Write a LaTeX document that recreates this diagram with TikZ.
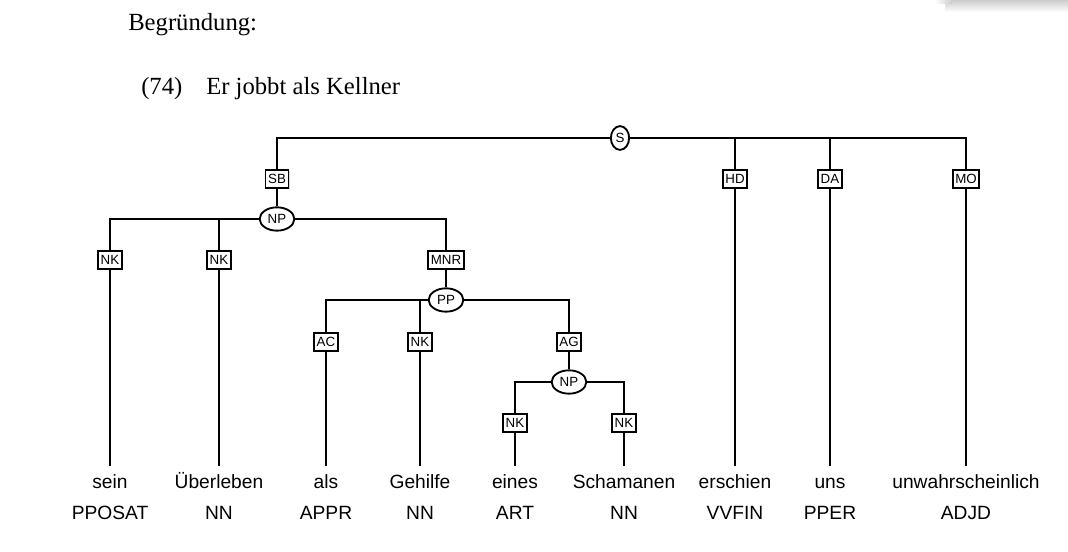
\documentclass[tikz,border=0pt]{standalone}
\usepackage{fontspec}
\setmainfont{Liberation Serif}
\setsansfont{Liberation Sans}
\usetikzlibrary{shapes.geometric,shadows}

\begin{document}
\begin{tikzpicture}[x=0.75pt,y=-0.75pt,
    ramo/.style={line width=1.5pt},
    func/.style={draw, fill=white, line width=1.4pt, inner xsep=2pt, inner ysep=0pt,
        minimum height=13.5pt, font=\sffamily\fontsize{10}{11}\selectfont,
        drop shadow={shadow xshift=0.8pt, shadow yshift=-0.8pt, fill=gray!55}},
    cat/.style={ellipse, draw, fill=white, line width=1.4pt, inner sep=0pt,
        minimum width=26pt, minimum height=17.5pt, font=\sffamily\fontsize{10}{11}\selectfont},
    palavra/.style={anchor=base, text height=11pt, inner ysep=5.5pt,
        font=\sffamily\fontsize{14.4}{16}\selectfont},
    etiqueta/.style={anchor=base, inner sep=0pt, font=\sffamily\fontsize{14.4}{16}\selectfont},
    titulo/.style={anchor=base west, inner sep=0pt, font=\rmfamily\fontsize{18.5}{20}\selectfont}]
    % Fundo e sombra no canto
    \fill[white] (0,0) rectangle (1068,552);
    \shade[top color=gray!40, bottom color=white] (945,0) rectangle (1068,12);
    \shade[left color=white, right color=gray!40] (935,0) rectangle (952,4);

    % Texto do exemplo
    \node[titulo] (beg) at (128,31) {Begründung:};
    \node[titulo] (num) at (141,95) {(74)};
    \node[titulo] (frase) at (206,95) {Er jobbt als Kellner};

    % Categorias
    \node[cat, minimum width=13.7pt, minimum height=17.8pt] (S) at (620,138) {S};
    \node[cat] (NPa) at (277,219) {NP};
    \node[cat] (PP) at (446,300) {PP};
    \node[cat] (NPb) at (569,382) {NP};

    % Funcoes
    \node[func] (SB) at (277,179) {SB};
    \node[func] (HD) at (735,179) {HD};
    \node[func] (DA) at (830,179) {DA};
    \node[func] (MO) at (966,179) {MO};
    \node[func] (NKa) at (110,260) {NK};
    \node[func] (NKb) at (219,260) {NK};
    \node[func] (MNR) at (446,260) {MNR};
    \node[func] (AC) at (326,342) {AC};
    \node[func] (NKc) at (420,342) {NK};
    \node[func] (AG) at (569,342) {AG};
    \node[func] (NKd) at (515,423) {NK};
    \node[func] (NKe) at (624,423) {NK};

    % Palavras e etiquetas
    \node[palavra] (w1) at (110,488) {sein};
    \node[palavra] (w2) at (219,488) {Überleben};
    \node[palavra] (w3) at (326,488) {als};
    \node[palavra] (w4) at (420,488) {Gehilfe};
    \node[palavra] (w5) at (515,488) {eines};
    \node[palavra] (w6) at (624,488) {Schamanen};
    \node[palavra] (w7) at (735,488) {erschien};
    \node[palavra] (w8) at (830,488) {uns};
    \node[palavra] (w9) at (966,488) {unwahrscheinlich};
    \node[etiqueta] (t1) at (110,519) {PPOSAT};
    \node[etiqueta] (t2) at (219,519) {NN};
    \node[etiqueta] (t3) at (326,519) {APPR};
    \node[etiqueta] (t4) at (420,519) {NN};
    \node[etiqueta] (t5) at (515,519) {ART};
    \node[etiqueta] (t6) at (624,519) {NN};
    \node[etiqueta] (t7) at (735,519) {VVFIN};
    \node[etiqueta] (t8) at (830,519) {PPER};
    \node[etiqueta] (t9) at (966,519) {ADJD};

    % Ramos
    \draw[ramo] (S) -| (SB);
    \draw[ramo] (S) -| (HD);
    \draw[ramo] (S) -| (DA);
    \draw[ramo] (S) -| (MO);
    \draw[ramo] (SB) -- (NPa);
    \draw[ramo] (HD) -- (w7.north);
    \draw[ramo] (DA) -- (w8.north);
    \draw[ramo] (MO) -- (w9.north);
    \draw[ramo] (NPa) -| (NKa);
    \draw[ramo] (NPa) -| (NKb);
    \draw[ramo] (NPa) -| (MNR);
    \draw[ramo] (NKa) -- (w1.north);
    \draw[ramo] (NKb) -- (w2.north);
    \draw[ramo] (MNR) -- (PP);
    \draw[ramo] (PP) -| (AC);
    \draw[ramo] (PP) -| (NKc);
    \draw[ramo] (PP) -| (AG);
    \draw[ramo] (AC) -- (w3.north);
    \draw[ramo] (NKc) -- (w4.north);
    \draw[ramo] (AG) -- (NPb);
    \draw[ramo] (NPb) -| (NKd);
    \draw[ramo] (NPb) -| (NKe);
    \draw[ramo] (NKd) -- (w5.north);
    \draw[ramo] (NKe) -- (w6.north);
\end{tikzpicture}
\end{document}
